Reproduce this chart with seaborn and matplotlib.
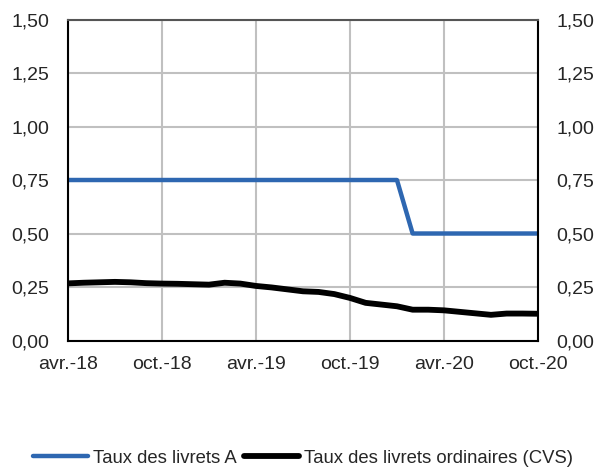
import numpy as np
import pandas as pd
import matplotlib
matplotlib.use("Agg")
import matplotlib.pyplot as plt
import seaborn as sns

# monthly data, avr.-18 -> oct.-20
livret_a = [0.75] * 22 + [0.50] * 9
livret_ord = [0.267, 0.270, 0.272, 0.274, 0.272, 0.268, 0.266, 0.265, 0.263,
              0.261, 0.270, 0.266, 0.255, 0.248, 0.239, 0.230, 0.227, 0.217,
              0.199, 0.176, 0.168, 0.160, 0.144, 0.144, 0.141, 0.134, 0.127,
              0.120, 0.126, 0.126, 0.125]
tick_labels = ["avr.-18", "oct.-18", "avr.-19", "oct.-19", "avr.-20", "oct.-20"]
y_ticks = [0.0, 0.25, 0.5, 0.75, 1.0, 1.25, 1.5]

months = np.arange(len(livret_a))
df = pd.DataFrame({
    "month": np.concatenate([months, months]),
    "taux": livret_a + livret_ord,
    "serie": ["Taux des livrets A"] * len(months)
             + ["Taux des livrets ordinaires (CVS)"] * len(months),
})

sns.set_style("white")
plt.rcParams["font.family"] = ["Liberation Sans", "DejaVu Sans"]

fig = plt.figure(figsize=(6.01, 4.70), dpi=100)
ax = fig.add_axes([0.1131, 0.2755, 0.782, 0.683])

sns.lineplot(data=df, x="month", y="taux", hue="serie",
             palette=["#2e67b1", "#000000"], ax=ax, legend=False)
ax.lines[0].set_linewidth(3.2)
ax.lines[1].set_linewidth(4.2)

ax.set_xlim(0, 30)
ax.set_ylim(0, 1.5)
ax.set_xticks(np.arange(0, 31, 6))
ax.set_xticklabels(tick_labels)
ax.set_yticks(y_ticks)
ax.set_yticklabels([f"{v:.2f}".replace(".", ",") for v in y_ticks])
ax.tick_params(axis="both", length=0, labelsize=14)
ax.tick_params(axis="x", pad=11)
ax.tick_params(axis="y", labelright=True, pad=13.5)
ax.grid(True, color="#c0c0c0", linewidth=1.5)
ax.set_xlabel("")
ax.set_ylabel("")

for side in ["left", "right", "bottom"]:
    ax.spines[side].set_color("black")
    ax.spines[side].set_linewidth(1.5)
ax.spines["top"].set_color("#555555")
ax.spines["top"].set_linewidth(1.5)

leg = ax.legend(ax.lines[:2], ["Taux des livrets A", "Taux des livrets ordinaires (CVS)"],
                loc="center", bbox_to_anchor=(0.5, -0.367), ncol=2, frameon=False,
                fontsize=13.3, handlelength=2.97, handletextpad=0.27,
                columnspacing=0.38)
for line in leg.get_lines():
    line.set_solid_capstyle("round")

fig.savefig("out.png", dpi=100)
